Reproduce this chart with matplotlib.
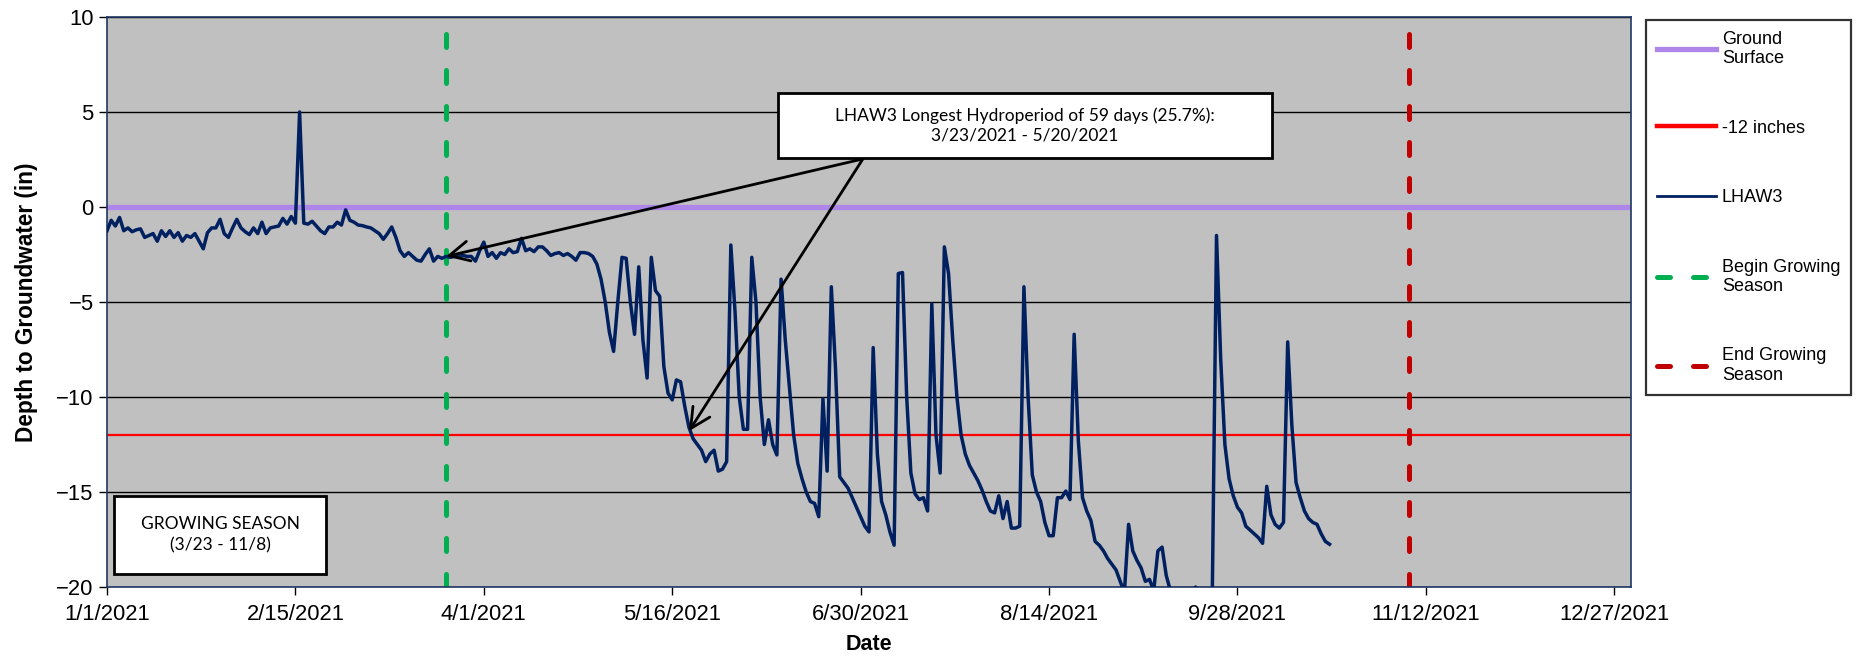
import matplotlib
matplotlib.use('Agg')
import matplotlib.pyplot as plt
import pandas as pd
from matplotlib.lines import Line2D
from matplotlib.patches import Rectangle

plt.rcParams['font.family'] = ['Liberation Sans', 'DejaVu Sans']

# daily depth to groundwater (in), LHAW3, starting 1/1/2021
start_date = '2021-01-01'
lhaw3 = [
    -1.25, -0.7, -1.0, -0.55, -1.25, -1.1, -1.3, -1.2, -1.15, -1.6,
    -1.5, -1.4, -1.8, -1.25, -1.55, -1.25, -1.6, -1.35, -1.8, -1.5,
    -1.6, -1.4, -1.8, -2.2, -1.35, -1.1, -1.1, -0.65, -1.4, -1.6,
    -1.1, -0.65, -1.1, -1.3, -1.45, -1.1, -1.4, -0.8, -1.4, -1.1,
    -1.05, -1.0, -0.6, -0.9, -0.5, -0.85, 5.0, -0.85, -0.9, -0.75,
    -1.0, -1.25, -1.4, -1.05, -1.05, -0.8, -0.95, -0.15, -0.7, -0.8,
    -0.95, -0.98, -1.05, -1.1, -1.25, -1.4, -1.7, -1.4, -1.05, -1.6,
    -2.3, -2.6, -2.4, -2.6, -2.8, -2.85, -2.5, -2.2, -2.85, -2.6,
    -2.7, -2.6, -2.65, -2.6, -2.6, -2.55, -2.6, -2.6, -2.85, -2.3,
    -1.85, -2.6, -2.4, -2.7, -2.4, -2.5, -2.2, -2.4, -2.35, -1.65,
    -2.3, -2.2, -2.35, -2.1, -2.1, -2.3, -2.55, -2.45, -2.4, -2.55,
    -2.45, -2.6, -2.8, -2.4, -2.4, -2.45, -2.6, -3.0, -3.8, -5.0,
    -6.6, -7.6, -5.0, -2.65, -2.7, -5.0, -6.7, -3.15, -7.0, -9.0,
    -2.65, -4.4, -4.7, -8.4, -9.8, -10.15, -9.1, -9.2, -10.5, -11.6,
    -12.2, -12.5, -12.8, -13.4, -13.0, -12.8, -13.9, -13.8, -13.4, -2.0,
    -5.5, -10.0, -11.7, -11.7, -2.65, -5.0, -10.0, -12.5, -11.2, -12.5,
    -13.05, -3.8, -7.0, -9.5, -12.0, -13.5, -14.3, -15.0, -15.5, -15.6,
    -16.3, -10.1, -13.9, -4.2, -8.5, -14.2, -14.5, -14.8, -15.3, -15.8,
    -16.3, -16.8, -17.1, -7.4, -13.0, -15.5, -16.2, -17.1, -17.8, -3.5,
    -3.45, -10.0, -14.0, -15.1, -15.4, -15.3, -16.0, -5.1, -12.0, -14.0,
    -2.1, -3.5, -7.0, -10.0, -12.0, -13.0, -13.6, -14.0, -14.4, -14.9,
    -15.5, -16.0, -16.1, -15.2, -16.4, -15.5, -16.9, -16.9, -16.8, -4.2,
    -10.0, -14.1, -15.0, -15.5, -16.6, -17.3, -17.3, -15.3, -15.3, -14.95,
    -15.4, -6.7, -12.3, -15.3, -16.0, -16.5, -17.6, -17.8, -18.1, -18.5,
    -18.8, -19.1, -19.7, -20.3, -16.7, -18.1, -18.6, -19.0, -19.7, -19.6,
    -20.2, -18.1, -17.9, -19.4, -20.2, -20.6, -21.0, -21.2, -21.0, -20.6,
    -20.0, -20.3, -20.6, -20.5, -20.3, -1.5, -8.0, -12.5, -14.3, -15.2,
    -15.8, -16.1, -16.8, -17.0, -17.2, -17.4, -17.7, -14.7, -16.2, -16.7,
    -16.9, -16.6, -7.1, -11.5, -14.5, -15.3, -16.0, -16.4, -16.6, -16.7,
    -17.2, -17.6, -17.75,
]
ground_surface = 0
threshold = -12
season_begin = '2021-03-23'
season_end = '2021-11-08'
hydro_start, hydro_start_depth = '2021-03-23', -2.6
hydro_end, hydro_end_depth = '2021-05-20', -11.8

dates = pd.date_range(start_date, periods=len(lhaw3), freq='D')
x_min, x_max = pd.Timestamp('2021-01-01'), pd.Timestamp('2021-12-31')

W, H = 1858, 660
fig = plt.figure(figsize=(W / 100, H / 100), dpi=100)
ax = fig.add_axes([107 / W, 73 / H, 1524 / W, 570 / H])
ax.set_facecolor('#C0C0C0')

ax.set_xlim(x_min, x_max)
ax.set_ylim(-20, 10)
ax.set_yticks(range(-20, 11, 5))
ax.yaxis.grid(True, color='black', lw=1)
ax.set_axisbelow(True)

purple = '#AE86EA'
navy = '#002060'
ax.axhline(ground_surface, color=purple, lw=3.8, zorder=2)
ax.axhline(threshold, color='#FF0000', lw=1.6, zorder=2)
ax.plot(dates, lhaw3, color=navy, lw=2.5, zorder=3, solid_joinstyle='round')
dash = dict(lw=3.6, dashes=(2.6, 4.6), dash_capstyle='round', zorder=2)
ax.axvline(pd.Timestamp(season_begin), color='#00B050', **dash)
ax.axvline(pd.Timestamp(season_end), color='#C00000', **dash)

ticks = pd.date_range(x_min, x_max, freq='45D')
ax.set_xticks(ticks)
ax.set_xticklabels([f'{d.month}/{d.day}/{d.year}' for d in ticks])
ax.tick_params(axis='both', labelsize=15.8, length=6, width=1, color='black')
ax.tick_params(axis='x', pad=6)
for s in ax.spines.values():
    s.set_color('#203864')
    s.set_linewidth(1.2)

ax.set_ylabel('Depth to Groundwater (in)', fontsize=16.3, fontweight='bold', labelpad=13)
ax.set_xlabel('Date', fontsize=15.5, fontweight='bold', labelpad=7)

# annotation boxes
box_font = ['Lato', 'DejaVu Sans']
ax.add_patch(Rectangle((0.4403, 0.7526), 0.3241, 0.114, transform=ax.transAxes,
                       facecolor='white', edgecolor='black', lw=2, zorder=6))
ax.text(0.6024, 0.8096, 'LHAW3 Longest Hydroperiod of 59 days (25.7%):\n3/23/2021 - 5/20/2021',
        transform=ax.transAxes, ha='center', va='center', fontsize=12.5,
        family=box_font, linespacing=1.3, zorder=7)
ax.add_patch(Rectangle((0.0048, 0.0223), 0.1391, 0.138, transform=ax.transAxes,
                       facecolor='white', edgecolor='black', lw=2, zorder=6))
ax.text(0.0744, 0.0912, 'GROWING SEASON\n(3/23 - 11/8)', transform=ax.transAxes,
        ha='center', va='center', fontsize=12.5, family=box_font, linespacing=1.4, zorder=7)

arrow = dict(arrowstyle='->,head_length=0.8,head_width=0.4', color='black', lw=2,
             mutation_scale=18, shrinkA=0, shrinkB=0)
for d, v in [(hydro_start, hydro_start_depth), (hydro_end, hydro_end_depth)]:
    ax.annotate('', xy=(pd.Timestamp(d), v), xycoords='data',
                xytext=(0.496, 0.751), textcoords='axes fraction',
                arrowprops=arrow, zorder=5)

handles = [
    Line2D([], [], color=purple, lw=3.8),
    Line2D([], [], color='#FF0000', lw=3.2),
    Line2D([], [], color=navy, lw=2),
    Line2D([], [], color='#00B050', lw=3.6, dashes=(2.6, 4.6), dash_capstyle='round'),
    Line2D([], [], color='#C00000', lw=3.6, dashes=(2.6, 4.6), dash_capstyle='round'),
]
labels = ['Ground\nSurface', '-12 inches', 'LHAW3', 'Begin Growing\nSeason', 'End Growing\nSeason']
leg = ax.legend(handles, labels, loc='upper left', bbox_to_anchor=(1646 / W, 1 - 20 / H),
                bbox_transform=fig.transFigure, fontsize=13, frameon=True, fancybox=False,
                edgecolor='black', handlelength=3.3, handletextpad=0.3, labelspacing=2.9,
                borderpad=0.6, borderaxespad=0)
leg.get_frame().set_linewidth(1.6)

fig.savefig('out.png', dpi=100)
